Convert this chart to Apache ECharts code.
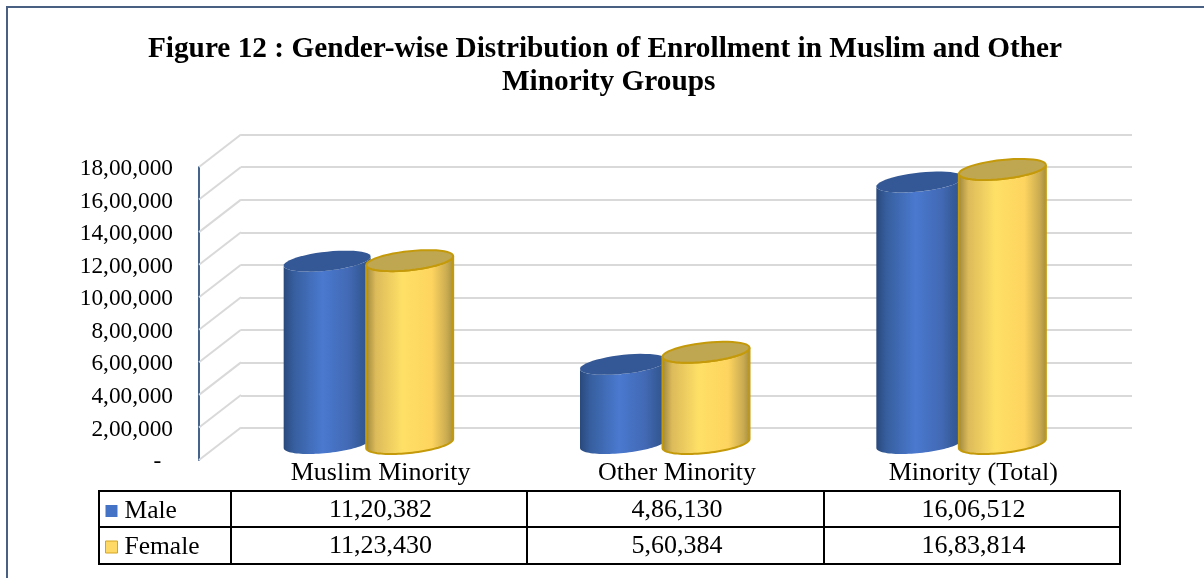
<!DOCTYPE html>
<html>
<head>
<meta charset="utf-8">
<style>
  html, body { margin: 0; padding: 0; background: #fff; }
  #main { width: 1204px; height: 578px; }
</style>
<script src="https://cdn.jsdelivr.net/npm/echarts@6/dist/echarts.min.js"></script>
</head>
<body>
<div id="main"></div>
<script>
const categories = ['Muslim Minority', 'Other Minority', 'Minority (Total)']
const male = [1120382, 486130, 1606512]
const female = [1123430, 560384, 1683814]
const yTicks = [0, 200000, 400000, 600000, 800000, 1000000, 1200000, 1400000, 1600000, 1800000]

const FONT = '"Liberation Serif", serif'

// indian digit grouping, 0 shows as a dash like the excel format
function lakh(v) {
  if (v === 0) return '-\u00a0\u00a0'
  const s = String(v)
  const last = s.slice(-3)
  const rest = s.slice(0, -3).replace(/\B(?=(\d{2})+$)/g, ',')
  return rest ? rest + ',' + last : last
}

// sloping side wall from the front axis to the back wall
function wallLine(params, api) {
  const y = api.coord([0, api.value(0)])[1]
  return {
    type: 'line',
    silent: true,
    shape: { x1: 199, y1: y, x2: 241, y2: y - 32.5 },
    style: { stroke: '#d9d9d9', lineWidth: 2, fill: null }
  }
}

// fake 3d cylinder, ellipse is sheared so the top looks tilted
function ellipsePts(cx, cy, from, to) {
  const a = 43.5, b = 9.5, s = 4.5
  const pts = []
  for (let i = 0; i <= 48; i++) {
    const t = from + (to - from) * i / 48
    pts.push([cx + a * Math.cos(t), cy + b * Math.sin(t) - s * Math.cos(t)])
  }
  return pts
}

function cylinder(dx, body, topFill, stroke) {
  return function (params, api) {
    const top = api.coord([api.value(0), api.value(1)])
    const base = api.coord([api.value(0), 0])
    const cx = top[0] + dx
    const topY = top[1] - 16.5
    const baseY = base[1] - 16.5
    const outline = ellipsePts(cx, topY, Math.PI, 0).concat(ellipsePts(cx, baseY, 0, Math.PI))
    const lw = stroke ? 2 : 0
    return {
      type: 'group',
      children: [
        {
          type: 'polygon',
          shape: { points: outline },
          style: {
            fill: { type: 'linear', x: 0, y: 0, x2: 1, y2: 0, colorStops: body },
            stroke: stroke || null,
            lineWidth: lw
          }
        },
        {
          type: 'polygon',
          shape: { points: ellipsePts(cx, topY, 0, Math.PI * 2) },
          style: { fill: topFill, stroke: stroke || null, lineWidth: lw }
        }
      ]
    }
  }
}

const blueBody = [
  { offset: 0, color: '#29497c' },
  { offset: 0.12, color: '#375f9f' },
  { offset: 0.45, color: '#4a79cf' },
  { offset: 0.75, color: '#4269b4' },
  { offset: 1, color: '#2d5083' }
]
const yellowBody = [
  { offset: 0, color: '#9a8439' },
  { offset: 0.12, color: '#dcbb5a' },
  { offset: 0.42, color: '#ffe066' },
  { offset: 0.75, color: '#fdd45f' },
  { offset: 0.92, color: '#c9ab50' },
  { offset: 1, color: '#a28c3e' }
]

// data table under the plot
const tableLeft = 99, tableRight = 1120, tableTop = 491, tableMid = 527, tableBottom = 564
const colX = [231, 527, 824, 1120]
const tableGraphic = []
function tableLine(x1, y1, x2, y2) {
  tableGraphic.push({
    type: 'line',
    silent: true,
    shape: { x1: x1, y1: y1, x2: x2, y2: y2 },
    style: { stroke: '#000', lineWidth: 2, lineCap: 'square' }
  })
}
tableLine(tableLeft, tableTop, tableRight, tableTop)
tableLine(tableLeft, tableMid, tableRight, tableMid)
tableLine(tableLeft, tableBottom, tableRight, tableBottom)
tableLine(tableLeft, tableTop, tableLeft, tableBottom)
colX.forEach(function (x) { tableLine(x, tableTop, x, tableBottom) })
function tableRow(values, y) {
  values.forEach(function (v, i) {
    tableGraphic.push({
      type: 'text',
      silent: true,
      x: (colX[i] + colX[i + 1]) / 2 + 1.5,
      y: y,
      style: { text: lakh(v), font: '26px ' + FONT, fill: '#000', align: 'center', verticalAlign: 'middle' }
    })
  })
}
tableRow(male, 510)
tableRow(female, 546)

// frame around the whole figure
const frame = [
  { type: 'line', silent: true, shape: { x1: 7, y1: 7, x2: 7, y2: 578 }, style: { stroke: '#4a6083', lineWidth: 2 } },
  { type: 'line', silent: true, shape: { x1: 6, y1: 7, x2: 1204, y2: 7 }, style: { stroke: '#4a6083', lineWidth: 2 } }
]

const chart = echarts.init(document.getElementById('main'), null, { renderer: 'canvas' })
chart.setOption({
  backgroundColor: '#fff',
  animation: false,
  textStyle: { fontFamily: FONT },
  title: {
    text: 'Figure 12 : Gender-wise Distribution of Enrollment in Muslim and Other\n\u00a0Minority Groups',
    left: 600,
    top: 28,
    textAlign: 'center',
    textStyle: { fontFamily: FONT, fontWeight: 'bold', fontSize: 29.3, lineHeight: 33, color: '#000' }
  },
  legend: {
    data: [
      { name: 'Male', itemStyle: { color: '#4472c4', borderWidth: 0 } },
      { name: 'Female', itemStyle: { color: '#ffd966', borderColor: '#d4a520', borderWidth: 1 } }
    ],
    orient: 'vertical',
    left: 100,
    top: 493,
    icon: 'rect',
    itemWidth: 12,
    itemHeight: 12,
    itemGap: 10,
    selectedMode: false,
    textStyle: { fontFamily: FONT, fontSize: 25.5, color: '#000', padding: [0, 0, 0, 2], height: 24, lineHeight: 24 }
  },
  grid: [
    { left: 231, right: 84, top: 167, bottom: 118 },
    { left: 241, right: 72, top: 134.5, bottom: 150 }
  ],
  xAxis: [
    {
      type: 'category',
      gridIndex: 0,
      data: categories,
      axisLine: { show: false },
      axisTick: { show: false },
      axisLabel: { fontSize: 26, fontFamily: FONT, color: '#000', margin: 0, verticalAlign: 'top', padding: [0, 0, 0, 3] }
    },
    { type: 'category', gridIndex: 1, data: categories, show: false }
  ],
  yAxis: [
    {
      type: 'value',
      gridIndex: 0,
      min: 0,
      max: 1800000,
      interval: 200000,
      offset: 32,
      axisLine: { show: true, lineStyle: { color: '#44648c', width: 2 } },
      axisTick: { show: false },
      splitLine: { show: false },
      // small lineHeight with top align nudges the labels 2px below the tick
      axisLabel: { fontSize: 23.3, fontFamily: FONT, color: '#000', margin: 26, verticalAlign: 'top', lineHeight: 4, formatter: lakh }
    },
    {
      type: 'value',
      gridIndex: 1,
      min: 0,
      max: 1800000,
      interval: 200000,
      axisLine: { show: false },
      axisTick: { show: false },
      axisLabel: { show: false },
      splitLine: { show: true, lineStyle: { color: '#d9d9d9', width: 2 } }
    }
  ],
  series: [
    {
      type: 'custom',
      xAxisIndex: 0,
      yAxisIndex: 0,
      silent: true,
      z: 1,
      data: yTicks.map(function (v) { return [v] }),
      renderItem: wallLine,
      encode: { y: 0 }
    },
    {
      name: 'Male',
      type: 'custom',
      xAxisIndex: 0,
      yAxisIndex: 0,
      z: 2,
      itemStyle: { color: '#4472c4' },
      data: male.map(function (v, i) { return [i, v] }),
      renderItem: cylinder(-52, blueBody, '#345895', null),
      encode: { x: 0, y: 1 }
    },
    {
      name: 'Female',
      type: 'custom',
      xAxisIndex: 0,
      yAxisIndex: 0,
      z: 3,
      itemStyle: { color: '#ffd966' },
      data: female.map(function (v, i) { return [i, v] }),
      renderItem: cylinder(30.5, yellowBody, '#bfa651', '#c49a0a'),
      encode: { x: 0, y: 1 }
    }
  ],
  graphic: frame.concat(tableGraphic)
})
</script>
</body>
</html>
